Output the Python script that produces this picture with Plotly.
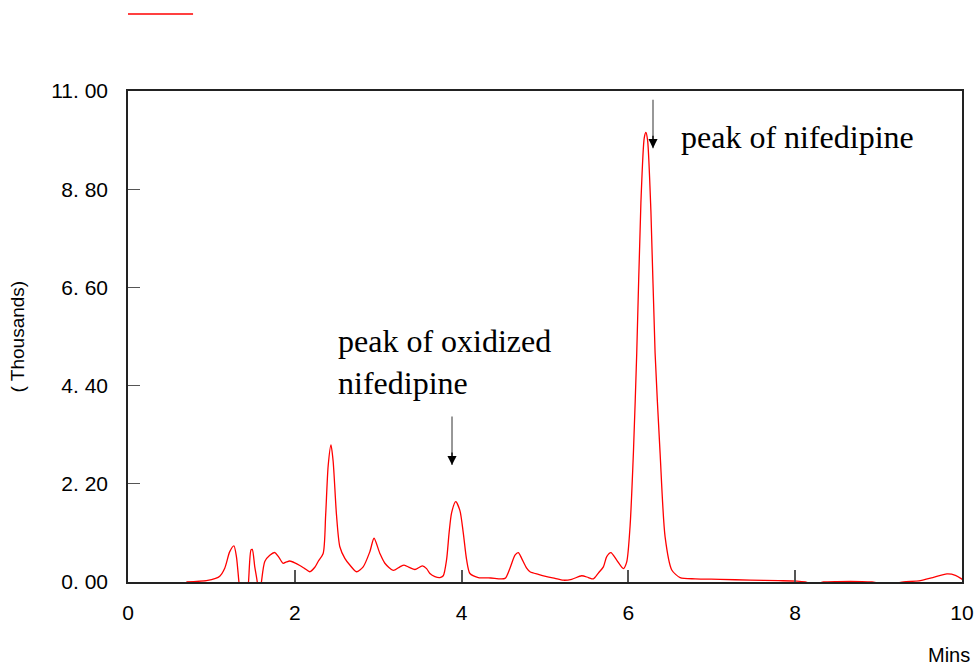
import plotly.graph_objects as go

# Chromatogram trace: retention time (min) and detector response (thousands)
time_min = [
    0.70, 0.94, 1.05, 1.10, 1.16, 1.22, 1.27, 1.30, 1.33, 1.36, 1.42, 1.445,
    1.475, 1.49, 1.52, 1.55, 1.575, 1.60, 1.64, 1.70, 1.76, 1.81, 1.86, 1.90,
    1.94, 2.00, 2.06, 2.12, 2.18, 2.24, 2.28, 2.34, 2.37, 2.40, 2.434, 2.46,
    2.50, 2.54, 2.60, 2.66, 2.74, 2.82, 2.90, 2.95, 3.02, 3.08, 3.18, 3.26,
    3.31, 3.38, 3.44, 3.53, 3.58, 3.62, 3.68, 3.74, 3.78, 3.82, 3.85, 3.88,
    3.93, 3.98, 4.02, 4.06, 4.10, 4.20, 4.35, 4.52, 4.58, 4.64, 4.68, 4.72,
    4.78, 4.82, 4.92, 5.02, 5.12, 5.22, 5.32, 5.44, 5.52, 5.58, 5.64, 5.70,
    5.74, 5.79, 5.86, 5.94, 5.98, 6.02, 6.06, 6.10, 6.15, 6.19, 6.21, 6.23,
    6.27, 6.32, 6.38, 6.44, 6.52, 6.62, 6.80, 7.10, 7.46, 7.80, 8.02, 8.12,
    8.22, 8.34, 8.50, 8.80, 8.92, 9.10, 9.30, 9.50, 9.65, 9.82, 9.92, 10.02,
]
response_k = [
    0.00, 0.03, 0.08, 0.13, 0.31, 0.68, 0.81, 0.57, 0.00, -0.50, -0.50, 0.00,
    0.72, 0.73, 0.34, 0.00, -0.40, 0.00, 0.46, 0.60, 0.66, 0.55, 0.42, 0.45,
    0.47, 0.43, 0.37, 0.30, 0.23, 0.33, 0.46, 0.64, 1.50, 2.60, 3.07, 2.70,
    1.50, 0.79, 0.53, 0.38, 0.23, 0.34, 0.68, 0.98, 0.64, 0.42, 0.26, 0.34,
    0.38, 0.32, 0.28, 0.36, 0.30, 0.19, 0.12, 0.10, 0.14, 0.50, 1.10, 1.55,
    1.80, 1.60, 1.10, 0.50, 0.19, 0.10, 0.09, 0.08, 0.31, 0.60, 0.66, 0.53,
    0.31, 0.23, 0.17, 0.12, 0.08, 0.04, 0.06, 0.14, 0.10, 0.07, 0.20, 0.34,
    0.57, 0.66, 0.49, 0.30, 0.45, 1.25, 2.89, 5.13, 8.50, 9.95, 10.07, 9.90,
    8.30, 5.13, 2.89, 1.01, 0.27, 0.10, 0.07, 0.06, 0.04, 0.03, 0.02, 0.00,
    -0.05, 0.00, 0.01, 0.01, 0.00, -0.05, 0.00, 0.03, 0.10, 0.18, 0.15, 0.04,
]

x_ticks = [0, 2, 4, 6, 8, 10]
y_ticks = [0.0, 2.2, 4.4, 6.6, 8.8, 11.0]
y_tick_text = ["0. 00", "2. 20", "4. 40", "6. 60", "8. 80", "11. 00"]

# Peak markers: (label, text x, text y, arrow x, arrow top, arrow tip)
peak_labels = [
    ("peak of nifedipine", 6.61, 9.96, 6.295, 10.84, 9.72),
    ("peak of oxidized<br>nifedipine", 2.49, 4.92, 3.885, 3.74, 2.62),
]

sans = "Liberation Sans, Arial, sans-serif"
serif = "Liberation Serif, Times New Roman, serif"

fig = go.Figure()
fig.add_trace(go.Scatter(
    x=time_min, y=response_k, mode="lines",
    line=dict(color="#ff0000", width=1.3, shape="spline", smoothing=0.7),
    showlegend=False, hoverinfo="skip",
))

annotations = []
for text, tx, ty, ax_x, a_top, a_tip in peak_labels:
    annotations.append(dict(
        x=tx, y=ty, xref="x", yref="y", text=text, showarrow=False,
        xanchor="left", yanchor="middle", align="left",
        font=dict(family=serif, size=32, color="#000"),
    ))
    # grey shaft
    annotations.append(dict(
        x=ax_x, y=a_tip, ax=ax_x, ay=a_top, xref="x", yref="y",
        axref="x", ayref="y", text="", showarrow=True,
        arrowhead=0, arrowwidth=1.5, arrowcolor="#777",
    ))
    # black head
    annotations.append(dict(
        x=ax_x, y=a_tip, ax=0, ay=-14, xref="x", yref="y",
        text="", showarrow=True, arrowhead=2, arrowsize=1.4,
        arrowwidth=1.3, arrowcolor="#000",
    ))

annotations.append(dict(
    x=-0.132, y=0.5, xref="paper", yref="paper", text="( Thousands)",
    textangle=-90, showarrow=False, xanchor="center", yanchor="middle",
    font=dict(family=sans, size=19, color="#000"),
))
annotations.append(dict(
    x=0.984, y=-0.149, xref="paper", yref="paper", text="Mins",
    showarrow=False, xanchor="center", yanchor="middle",
    font=dict(family=sans, size=20, color="#000"),
))

fig.update_layout(
    width=979, height=667,
    margin=dict(l=128, r=17, t=91, b=85, autoexpand=False),
    paper_bgcolor="white", plot_bgcolor="white",
    annotations=annotations,
    shapes=[dict(
        type="line", xref="paper", yref="paper",
        x0=0, x1=0.078, y0=1.157, y1=1.157,
        line=dict(color="#ff0000", width=1.5),
    )],
    font=dict(family=sans, color="#000"),
)
fig.update_xaxes(
    range=[0, 10], tickvals=x_ticks, ticktext=[str(v) for v in x_ticks],
    ticks="inside", ticklen=12, tickwidth=1.5, tickcolor="#555",
    showline=True, linecolor="#222", linewidth=1.5, mirror=True,
    showgrid=False, zeroline=False, ticklabelstandoff=11, automargin=False,
    tickfont=dict(family=sans, size=21, color="#000"),
)
fig.update_yaxes(
    range=[0, 11], tickvals=y_ticks, ticktext=y_tick_text,
    ticks="inside", ticklen=12, tickwidth=1.2, tickcolor="#555",
    showline=True, linecolor="#222", linewidth=1.5, mirror=True,
    showgrid=False, zeroline=False, ticklabelstandoff=14, automargin=False,
    tickfont=dict(family=sans, size=21, color="#000"),
)

fig.write_html("out.html")
